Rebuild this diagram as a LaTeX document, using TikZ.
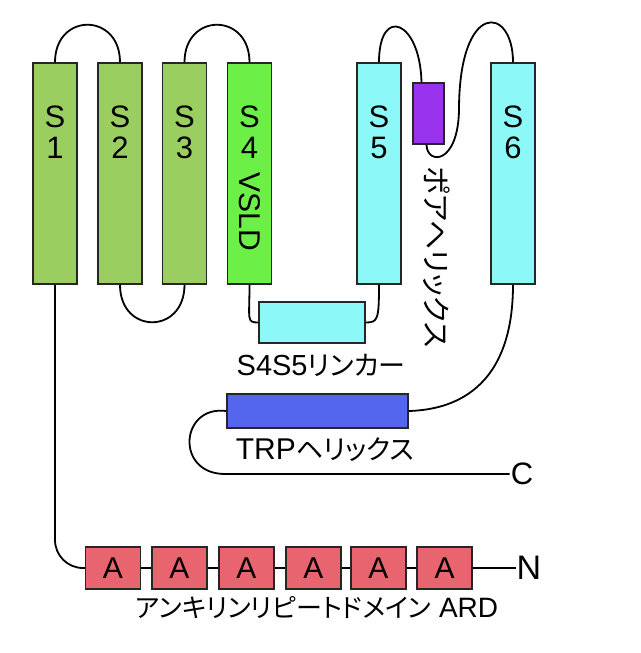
\documentclass[tikz,border=0pt]{standalone}
\usepackage{fontspec}
\setmainfont{Liberation Sans}
\newfontfamily\jp[RawFeature=+palt]{Noto Sans CJK JP}
\definecolor{gA}{HTML}{9BCE60}
\definecolor{gB}{HTML}{6CF048}
\definecolor{cy}{HTML}{8DF8F8}
\definecolor{pu}{HTML}{9933EE}
\definecolor{bl}{HTML}{5566EE}
\definecolor{rd}{HTML}{E8646E}
\newcommand{\jpk}[2]{{\jp\fontsize{#1}{#1}\selectfont #2}}
\begin{document}
\begin{tikzpicture}[x=1pt,y=-1pt,
  helix/.style={draw=black!85, line width=1.5pt, minimum width=44pt, minimum height=221pt, inner sep=0pt},
  box/.style={draw=black!85, line width=1.5pt, inner sep=0pt},
  link/.style={line width=1.8pt},
  bt/.style={font=\fontsize{31}{31}\selectfont, inner sep=0pt},
  lbl/.style={font=\fontsize{30}{30}\selectfont, inner sep=0pt}
]
\useasboundingbox[fill=white] (0,0) rectangle (640,653);
% transmembrane helices
\node[helix, fill=gA] (s1) at (55,173.5) {};
\node[helix, fill=gA] (s2) at (120,173.5) {};
\node[helix, fill=gA] (s3) at (184.5,173.5) {};
\node[helix, fill=gB] (s4) at (249.5,173.5) {};
\node[helix, fill=cy] (s5) at (379,173.5) {};
\node[helix, fill=cy] (s6) at (513,173.5) {};
\node[box, fill=pu, minimum width=31pt, minimum height=61pt] (pore) at (428.5,113.5) {};
\node[box, fill=cy, minimum width=106pt, minimum height=41pt] (lk) at (312,322.5) {};
\node[box, fill=bl, minimum width=181pt, minimum height=34pt] (trp) at (317.5,411) {};
% helix labels
\foreach \n/\x/\d in {a/55/1, b/120/2, c/184.5/3, d/249.5/4, e/379/5, f/513/6}{
  \node[bt] (t\n1) at (\x,117) {S};
  \node[bt] (t\n2) at (\x,148) {\d};
}
\node[bt, font=\fontsize{30}{30}\selectfont, rotate=-90] (vsld) at (249.5,212) {VSLD};
% ankyrin repeats
\foreach \i/\x in {1/113, 2/179.5, 3/246.5, 4/313.5, 5/378.5, 6/444.5}{
  \node[box, fill=rd, minimum width=55pt, minimum height=42pt, font=\fontsize{30}{30}\selectfont] (a\i) at (\x,568) {A};
}
% end labels
\node[font=\fontsize{34}{34}\selectfont, inner sep=1pt] (nn) at (529,568) {N};
\node[font=\fontsize{31}{31}\selectfont, inner sep=1pt] (cc) at (522,474) {C};
\coordinate (cb) at (225,474);
% texts
\node[lbl, font=\fontsize{29}{29}\selectfont] (lkl) at (321,365) {S4S5\jpk{27}{リンカー}};
\node[lbl] (trpl) at (325,450) {TRP\jpk{27}{ヘリックス}};
\node[lbl, rotate=-90] (porel) at (437,257) {\jpk{29}{ポアヘリックス}};
\node[lbl, font=\fontsize{28}{28}\selectfont] (ardl) at (317,608) {\jpk{26}{アンキリンリピートドメイン} ARD};
% connectors
\draw[link] (s1.north) .. controls +(0,-50) and +(0,-50) .. (s2.north);
\draw[link] (s2.south) .. controls +(0,50) and +(0,50) .. (s3.south);
\draw[link] (s3.north) .. controls +(0,-50) and +(0,-50) .. (s4.north);
\draw[link] (s4.south) .. controls +(0,35) and +(-12,0) .. (lk.west);
\draw[link] (s5.south) .. controls +(0,35) and +(12,0) .. (lk.east);
\draw[link] (s5.north) .. controls (379,5) and (420,20) .. ([xshift=-7pt]pore.north);
\coordinate (pm) at (459,110);
\draw[link] ([xshift=-2pt]pore.south) .. controls (427,165) and (458,165) .. (pm)
  .. controls (459,0) and (513,5) .. (s6.north);
\draw[link] (s6.south) .. controls (513,400) and (440,410) .. (trp.east);
\draw[link] (trp.west) .. controls (180,405) and (175,474) .. (cb) -- (cc.west);
\draw[link, rounded corners=28pt] (s1.south) |- (a1.west);
\draw[link] (a1) -- (a2) (a2) -- (a3) (a3) -- (a4) (a4) -- (a5) (a5) -- (a6);
\draw[link] (a6.east) -- (nn.west);
\end{tikzpicture}
\end{document}
